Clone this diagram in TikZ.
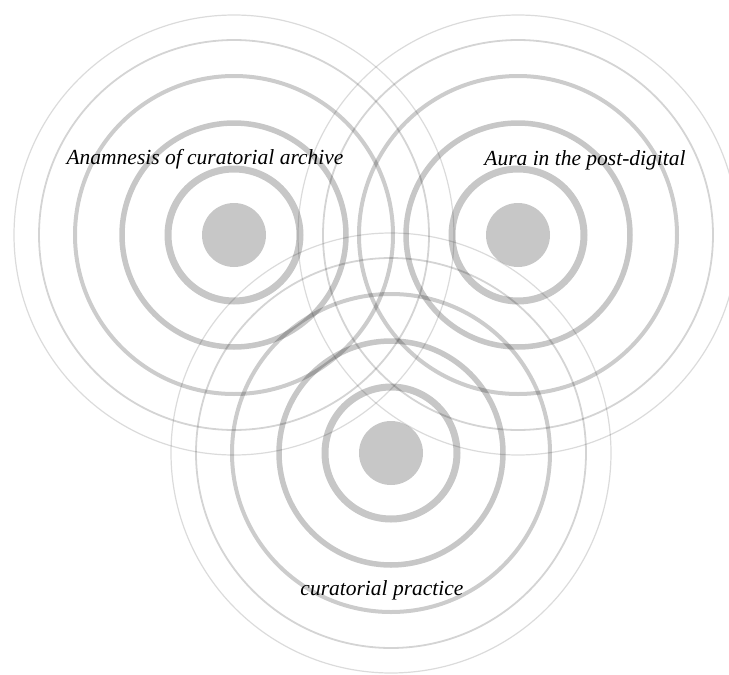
\documentclass[tikz,border=0pt]{standalone}
\usepackage{fontspec}
\setmainfont{Liberation Serif}
\begin{document}
\begin{tikzpicture}[x=1pt,y=-1pt,
  ringA/.style={draw=black,draw opacity=0.22,line width=7pt},
  ringB/.style={draw=black,draw opacity=0.22,line width=5.5pt},
  ringC/.style={draw=black,draw opacity=0.20,line width=4pt},
  ringD/.style={draw=black,draw opacity=0.17,line width=1.8pt},
  ringE/.style={draw=black,draw opacity=0.14,line width=1.2pt},
  core/.style={fill=black,fill opacity=0.22},
  lbl/.style={font=\itshape\fontsize{21.5}{24}\selectfont,text=black}]
\useasboundingbox (0,0) rectangle (729,675);
\foreach \cx/\cy in {234/235,518/235,391/453}{
  \fill[core] (\cx,\cy) circle[radius=32];
  \draw[ringA] (\cx,\cy) circle[radius=66];
  \draw[ringB] (\cx,\cy) circle[radius=112];
  \draw[ringC] (\cx,\cy) circle[radius=159];
  \draw[ringD] (\cx,\cy) circle[radius=195];
  \draw[ringE] (\cx,\cy) circle[radius=220];
}
\node[lbl,anchor=base] (tL) at (205,164) {Anamnesis of curatorial archive};
\node[lbl,anchor=base] (tR) at (585,165) {Aura in the post-digital};
\node[lbl,anchor=base] (tB) at (382,595) {curatorial practice};
\end{tikzpicture}
\end{document}
